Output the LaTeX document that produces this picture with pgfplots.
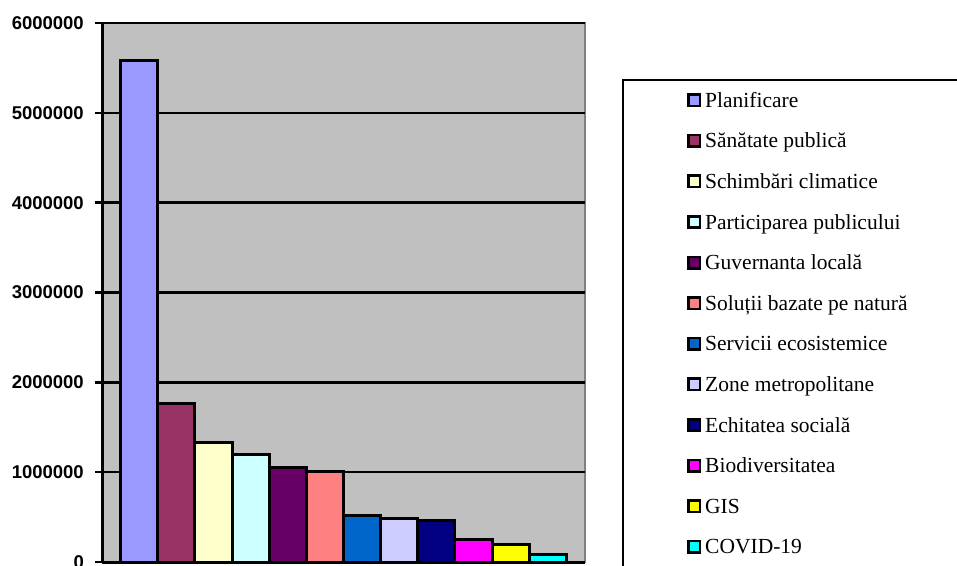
\documentclass[border=0pt]{standalone}
\usepackage{pgfplots}
\pgfplotsset{compat=1.18}
\usepackage{fontspec}
\setmainfont{Liberation Serif}
\newfontfamily\tickfont{Liberation Sans}
\definecolor{bgc}{HTML}{C0C0C0}
\definecolor{cA}{HTML}{9999FF}
\definecolor{cB}{HTML}{993366}
\definecolor{cC}{HTML}{FFFFCC}
\definecolor{cD}{HTML}{CCFFFF}
\definecolor{cE}{HTML}{660066}
\definecolor{cF}{HTML}{FF8080}
\definecolor{cG}{HTML}{0066CC}
\definecolor{cH}{HTML}{CCCCFF}
\definecolor{cI}{HTML}{000080}
\definecolor{cJ}{HTML}{FF00FF}
\definecolor{cK}{HTML}{FFFF00}
\definecolor{cL}{HTML}{00FFFF}
\pgfplotsset{
  sqlegend/.style={legend image code/.code={\draw[##1,draw=black,line width=2.6pt] (1.3pt,1.3pt) rectangle (12.7pt,12.7pt);}},
  mybar/.style={ybar, bar width=1, bar shift=0pt, draw=black, fill=#1, line width=3pt, sqlegend}
}
\begin{document}
\begin{tikzpicture}[x=1pt,y=1pt]
\useasboundingbox (0,0) rectangle (957,565);
\begin{axis}[
  at={(102pt,3pt)}, anchor=south west, scale only axis,
  width=483pt, height=539pt,
  xmin=0, xmax=13, ymin=0, ymax=6000000,
  xtick=\empty,
  ytick={0,1000000,2000000,3000000,4000000,5000000,6000000},
  scaled y ticks=false,
  /pgf/number format/fixed,
  /pgf/number format/1000 sep={},
  /pgf/number format/assume math mode=true,
  yticklabel style={font=\tickfont\bfseries\fontsize{18.5}{18.5}\selectfont, anchor=east, inner sep=0pt, xshift=-11pt},
  axis background/.style={fill=bgc, draw=gray, line width=2pt},
  ymajorgrids, grid style={black, line width=2.4pt},
  axis lines=left, axis line style={-, black, line width=3pt},
  tick style={black, line width=2.4pt}, major tick length=7pt, tick align=outside,
  every axis plot post/.append style={line width=3pt},
  legend style={draw=none, fill=none, at={(1.2112,0.8701)}, anchor=north west, inner sep=0pt, row sep=12.6pt, column sep=4pt,
    font=\fontsize{21.5}{21.5}\selectfont,
    nodes={inner sep=0pt, text height=14pt, text depth=14pt}},
  legend cell align=left,
]
\addplot[mybar=cA] coordinates {(1,5580000)};
\addplot[mybar=cB] coordinates {(2,1765000)};
\addplot[mybar=cC] coordinates {(3,1335000)};
\addplot[mybar=cD] coordinates {(4,1200000)};
\addplot[mybar=cE] coordinates {(5,1052000)};
\addplot[mybar=cF] coordinates {(6,1012000)};
\addplot[mybar=cG] coordinates {(7,520000)};
\addplot[mybar=cH] coordinates {(8,484000)};
\addplot[mybar=cI] coordinates {(9,457000)};
\addplot[mybar=cJ] coordinates {(10,250000)};
\addplot[mybar=cK] coordinates {(11,200000)};
\addplot[mybar=cL] coordinates {(12,86000)};
\legend{Planificare, Sănătate publică, Schimbări climatice, Participarea publicului, Guvernanta locală, Soluții bazate pe natură, Servicii ecosistemice, Zone metropolitane, Echitatea socială, Biodiversitatea, GIS, COVID-19}
\end{axis}
\draw[line width=2.4pt] (623,485) rectangle (975,-10);
\end{tikzpicture}
\end{document}
